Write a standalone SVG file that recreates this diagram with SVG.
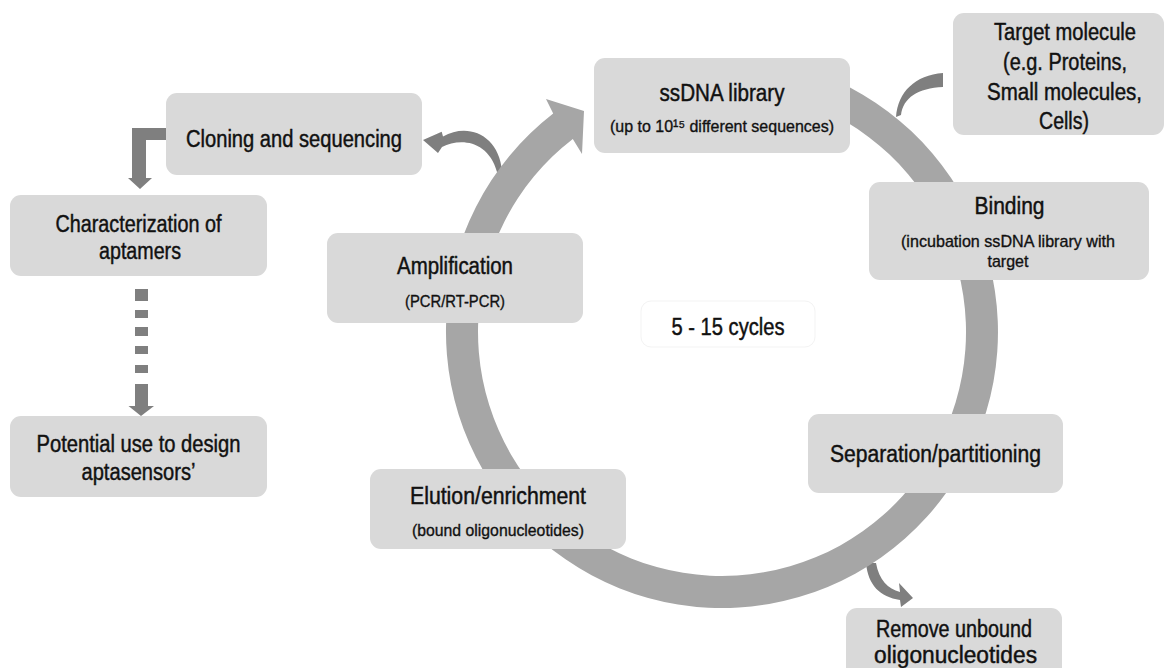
<svg xmlns="http://www.w3.org/2000/svg" width="1166" height="668" viewBox="0 0 1166 668">
<defs>
<style>
.box{fill:#d9d9d9;}
.t{font-family:"Liberation Sans Narrow","Liberation Sans",sans-serif;font-size:23.5px;fill:#111;stroke:#111;stroke-width:0.45px;text-anchor:middle;}
.s{font-family:"Liberation Sans Narrow","Liberation Sans",sans-serif;font-size:17px;fill:#111;stroke:#111;stroke-width:0.35px;text-anchor:middle;}
.ring{fill:#a6a6a6;}
.dk{fill:#7f7f7f;}
</style>
</defs>
<rect width="1166" height="668" fill="#fff"/>
<g id="connectors">
  <path class="dk" d="M943 73 C915 75 898 92 896 117 L901 115 C903 98 918 88 943 87 Z"/>
  <path class="dk" d="M502 171 C499 135 468 122 443 136.5 L441.7 131.7 L423 140 L438 153 L442 147 C460 138 488 140 497 172 Z"/>
  <path class="dk" d="M866 563 C868 585 880 597 900 600 L901 607 L913 598 L899 583 L900 592 C888 589 879 580 876 563 Z"/>
  <path class="dk" d="M166 128 L132 128 L132 178 L128 178 L140 189 L152 178 L146 178 L146 140 L166 140 Z"/>
  <g class="dk">
    <rect x="135" y="289" width="13" height="12"/>
    <rect x="135" y="310" width="13" height="8"/>
    <rect x="135" y="327" width="13" height="9"/>
    <rect x="135" y="346" width="13" height="8"/>
    <rect x="135" y="365" width="13" height="8"/>
    <rect x="135" y="384" width="13" height="22"/>
    <polygon points="128.5,406 154,406 141,416"/>
  </g>
  <path class="ring" d="M807.3 69.5 A276 276 0 1 1 553.2 113.6 L546 99 L584 111 L582 154 L572.8 138.9 A244 244 0 1 0 797.4 99.9 Z"/>
</g>
<g id="cloning">
  <rect class="box" x="166" y="93" width="256" height="82" rx="11"/>
  <text class="t" x="294" y="147" textLength="216" lengthAdjust="spacingAndGlyphs">Cloning and sequencing</text>
</g>
<g id="characterization">
  <rect class="box" x="10" y="195" width="257" height="81" rx="11"/>
  <text class="t" x="138.5" y="232" textLength="166" lengthAdjust="spacingAndGlyphs">Characterization of</text>
  <text class="t" x="140" y="259" textLength="82" lengthAdjust="spacingAndGlyphs">aptamers</text>
</g>
<g id="potential">
  <rect class="box" x="10" y="416" width="257" height="81" rx="11"/>
  <text class="t" x="138.5" y="452" textLength="204" lengthAdjust="spacingAndGlyphs">Potential use to design</text>
  <text class="t" x="138.5" y="480" textLength="114" lengthAdjust="spacingAndGlyphs">aptasensors’</text>
</g>
<g id="amplification">
  <rect class="box" x="327" y="233" width="256" height="90" rx="11"/>
  <text class="t" x="455" y="274" textLength="116" lengthAdjust="spacingAndGlyphs">Amplification</text>
  <text class="s" x="455" y="307" textLength="100" lengthAdjust="spacingAndGlyphs">(PCR/RT-PCR)</text>
</g>
<g id="ssdna">
  <rect class="box" x="594" y="58" width="256" height="95" rx="11"/>
  <text class="t" x="722" y="101" textLength="125" lengthAdjust="spacingAndGlyphs">ssDNA library</text>
  <text class="s" x="722" y="132" textLength="224" lengthAdjust="spacingAndGlyphs">(up to 10¹⁵ different sequences)</text>
</g>
<g id="target">
  <rect class="box" x="953" y="13" width="211" height="122" rx="11"/>
  <text class="t" x="1065" y="40" textLength="142" lengthAdjust="spacingAndGlyphs">Target molecule</text>
  <text class="t" x="1065" y="70" textLength="124" lengthAdjust="spacingAndGlyphs">(e.g. Proteins,</text>
  <text class="t" x="1064.5" y="100" textLength="155" lengthAdjust="spacingAndGlyphs">Small molecules,</text>
  <text class="t" x="1064" y="129" textLength="50" lengthAdjust="spacingAndGlyphs">Cells)</text>
</g>
<g id="binding">
  <rect class="box" x="869" y="182" width="280" height="98" rx="11"/>
  <text class="t" x="1009.5" y="214" textLength="70" lengthAdjust="spacingAndGlyphs">Binding</text>
  <text class="s" x="1008" y="247" textLength="214" lengthAdjust="spacingAndGlyphs">(incubation ssDNA library with</text>
  <text class="s" x="1008" y="267" textLength="41" lengthAdjust="spacingAndGlyphs">target</text>
</g>
<g id="cycles">
  <rect x="641" y="301" width="174" height="46" rx="10" fill="#fff" stroke="#f3f3f3" stroke-width="1"/>
  <text class="t" x="728" y="335" textLength="113" lengthAdjust="spacingAndGlyphs">5 - 15 cycles</text>
</g>
<g id="separation">
  <rect class="box" x="808" y="414" width="255" height="79" rx="11"/>
  <text class="t" x="935.5" y="462" textLength="211" lengthAdjust="spacingAndGlyphs">Separation/partitioning</text>
</g>
<g id="elution">
  <rect class="box" x="370" y="469" width="256" height="80" rx="11"/>
  <text class="t" x="498" y="504" textLength="176" lengthAdjust="spacingAndGlyphs">Elution/enrichment</text>
  <text class="s" x="498" y="536" textLength="172" lengthAdjust="spacingAndGlyphs">(bound oligonucleotides)</text>
</g>
<g id="remove">
  <rect class="box" x="846" y="608" width="216" height="80" rx="11"/>
  <text class="t" x="954" y="637" textLength="156" lengthAdjust="spacingAndGlyphs">Remove unbound</text>
  <text class="t" x="955.5" y="663" textLength="163" lengthAdjust="spacingAndGlyphs">oligonucleotides</text>
</g>
</svg>
